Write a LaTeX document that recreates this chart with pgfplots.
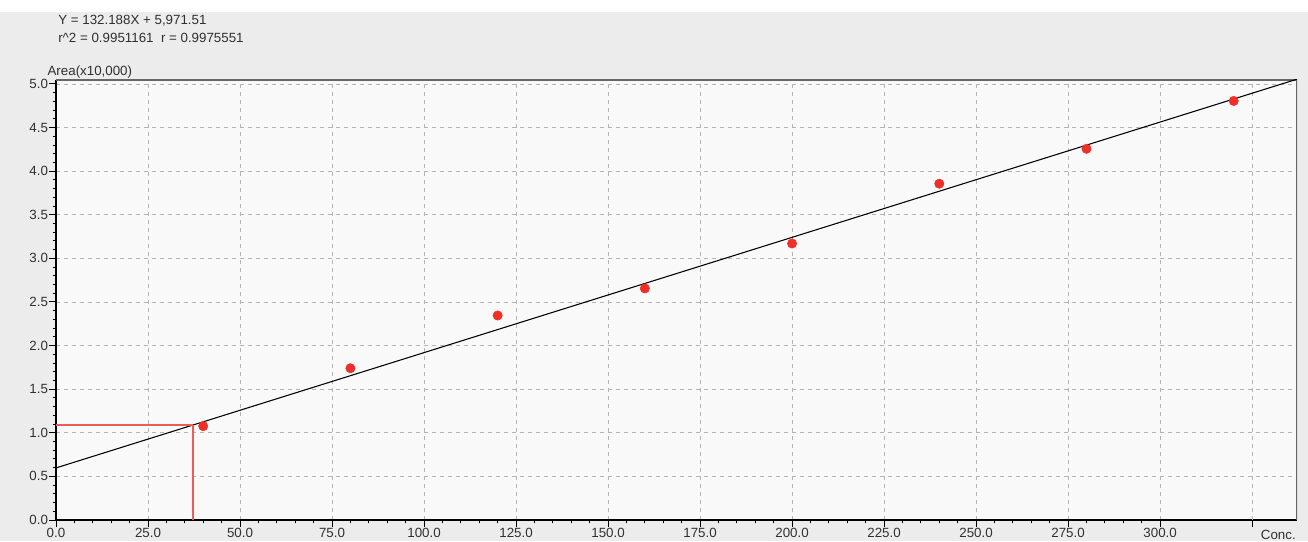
\documentclass[border=0pt]{standalone}
\usepackage{pgfplots}
\pgfplotsset{compat=1.18}
\usepackage{fontspec}
\setmainfont{Liberation Sans}
\definecolor{outerbg}{HTML}{ECECEC}
\definecolor{plotbg}{HTML}{F9F9F9}
\definecolor{gridc}{HTML}{B4B4B4}
\definecolor{ptred}{HTML}{F03028}
\definecolor{linered}{HTML}{F05A5A}
\definecolor{txt}{HTML}{303030}
\begin{document}
\begin{tikzpicture}
\fill[white] (0pt,0pt) rectangle (981pt,405.75pt);
\fill[outerbg] (0pt,0pt) rectangle (981pt,396.75pt);
\node[anchor=west,font=\fontsize{10pt}{11pt}\selectfont,text=txt,inner sep=0] at (43.5pt,390.5pt) {Y = 132.188X + 5,971.51};
\node[anchor=west,font=\fontsize{10pt}{11pt}\selectfont,text=txt,inner sep=0] at (43.5pt,377.25pt) {r\textasciicircum 2 = 0.9951161\ \ r = 0.9975551};
\begin{axis}[
  at={(42pt,15.75pt)}, anchor=south west,
  scale only axis, width=930.75pt, height=330pt,
  xmin=0, xmax=337.2, ymin=0, ymax=5.045,
  axis background/.style={fill=plotbg},
  axis line style={black, line width=1.1pt},
  axis x line*=bottom, axis y line*=left,
  xtick={0,25,...,300}, ytick={0,0.5,...,5.0},
  extra x ticks={325}, extra x tick labels={},
  extra x tick style={grid=major},
  minor x tick num=4, minor y tick num=4,
  tick align=outside,
  major tick length=5pt, minor tick length=2.5pt,
  tick style={black, line width=0.7pt},
  grid=major,
  major grid style={gridc, dashed, line width=0.6pt},
  xticklabel={\pgfmathprintnumber[fixed,fixed zerofill,precision=1]{\tick}},
  yticklabel={\pgfmathprintnumber[fixed,fixed zerofill,precision=1]{\tick}},
  /pgf/number format/assume math mode=true,
  ticklabel style={font=\fontsize{10pt}{11pt}\selectfont, text=txt},
  xticklabel style={yshift=2.5pt},
  yticklabel style={xshift=2.5pt},
  clip=true,
]
\draw[gray!80!black, line width=0.8pt] (rel axis cs:0,1) -- (rel axis cs:1,1) -- (rel axis cs:1,0);
\addplot[black, line width=0.8pt] coordinates {(0,0.5972) (337.2,5.0545)};
\addplot[linered, line width=1.2pt] coordinates {(0,1.09) (37.3,1.09)};
\addplot[linered, line width=1.2pt] coordinates {(37.3,1.09) (37.3,0)};
\addplot[only marks, mark=*, mark size=3.5pt, color=ptred] coordinates {
(40,1.076) (80,1.74) (120,2.345) (160,2.655) (200,3.17) (240,3.856) (280,4.256) (320,4.805)};
\end{axis}
\node[anchor=south west,font=\fontsize{10pt}{11pt}\selectfont,text=txt,inner sep=0] at (35.5pt,347pt) {Area(x10,000)};
\node[anchor=east,font=\fontsize{10pt}{11pt}\selectfont,text=txt,inner sep=0] at (972pt,4.5pt) {Conc.};
\end{tikzpicture}
\end{document}
